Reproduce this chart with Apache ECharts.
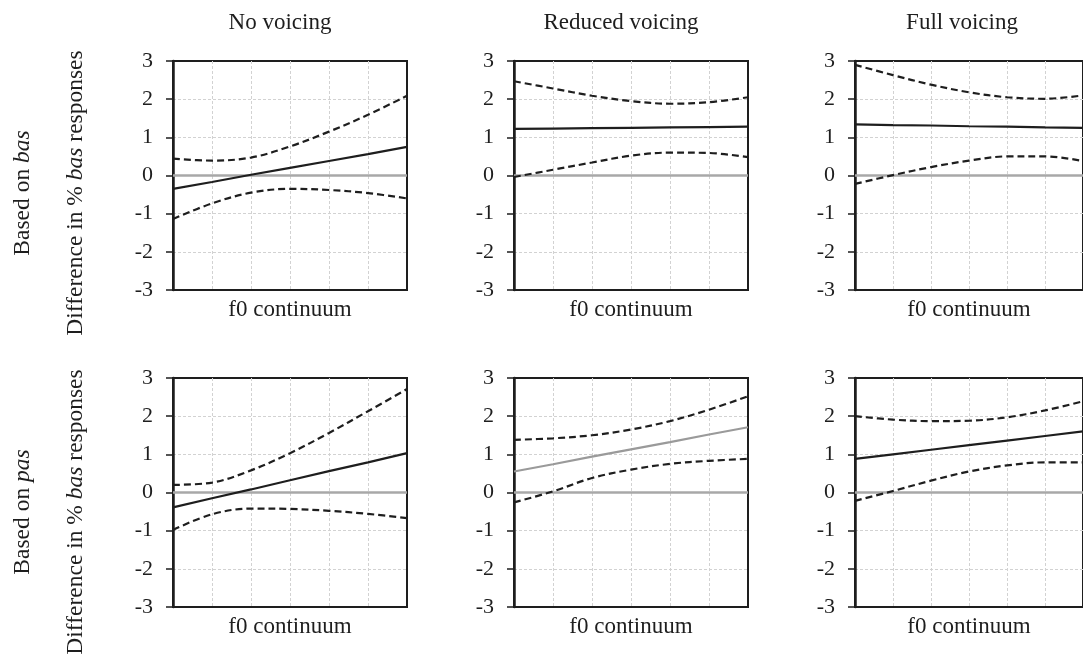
<!DOCTYPE html>
<html>
<head>
<meta charset="utf-8">
<script src="https://cdn.jsdelivr.net/npm/echarts@6/dist/echarts.min.js"></script>
<style>
  html, body { margin: 0; padding: 0; background: #ffffff; }
  #chart { width: 1083px; height: 655px; }
</style>
</head>
<body>
<div id="chart"></div>
<script>
// Steps along the f0 continuum (x positions) and the value axis ticks
const steps = [0, 1, 2, 3, 4, 5, 6];
const yTickValues = [-3, -2, -1, 0, 1, 2, 3];
const zeroLine = [0, 0];

// Column headings (voicing conditions) and row headings (reference item)
const columnTitles = ['No voicing', 'Reduced voicing', 'Full voicing'];
const rowWords = ['bas', 'pas'];
const xAxisTitle = 'f0 continuum';

// Based on bas
const noBasFit   = [-0.35, -0.17, 0.02, 0.20, 0.38, 0.56, 0.75];
const noBasUpper = [0.44, 0.39, 0.47, 0.76, 1.15, 1.59, 2.09];
const noBasLower = [-1.14, -0.73, -0.45, -0.35, -0.38, -0.46, -0.60];

const redBasFit   = [1.22, 1.23, 1.24, 1.25, 1.26, 1.27, 1.28];
const redBasUpper = [2.47, 2.28, 2.09, 1.95, 1.88, 1.92, 2.05];
const redBasLower = [-0.04, 0.15, 0.34, 0.52, 0.60, 0.59, 0.48];

const fullBasFit   = [1.34, 1.32, 1.31, 1.29, 1.28, 1.26, 1.25];
const fullBasUpper = [2.90, 2.63, 2.38, 2.18, 2.05, 2.01, 2.10];
const fullBasLower = [-0.22, 0.01, 0.22, 0.39, 0.50, 0.50, 0.38];

// Based on pas
const noPasFit   = [-0.39, -0.15, 0.08, 0.32, 0.56, 0.79, 1.03];
const noPasUpper = [0.20, 0.26, 0.58, 1.03, 1.56, 2.13, 2.71];
const noPasLower = [-0.98, -0.57, -0.42, -0.43, -0.48, -0.56, -0.67];

const redPasFit   = [0.55, 0.74, 0.94, 1.13, 1.32, 1.52, 1.71];
const redPasUpper = [1.38, 1.42, 1.50, 1.65, 1.87, 2.17, 2.52];
const redPasLower = [-0.26, 0.03, 0.38, 0.60, 0.75, 0.83, 0.88];

const fullPasFit   = [0.88, 1.00, 1.12, 1.24, 1.36, 1.48, 1.60];
const fullPasUpper = [2.00, 1.91, 1.87, 1.88, 1.97, 2.15, 2.39];
const fullPasLower = [-0.22, 0.04, 0.31, 0.55, 0.71, 0.79, 0.79];

// Panels in reading order; fitGrey marks a fitted line drawn in grey
const panels = [
  { fit: noBasFit,   upper: noBasUpper,   lower: noBasLower,   fitGrey: false },
  { fit: redBasFit,  upper: redBasUpper,  lower: redBasLower,  fitGrey: false },
  { fit: fullBasFit, upper: fullBasUpper, lower: fullBasLower, fitGrey: false },
  { fit: noPasFit,   upper: noPasUpper,   lower: noPasLower,   fitGrey: false },
  { fit: redPasFit,  upper: redPasUpper,  lower: redPasLower,  fitGrey: true  },
  { fit: fullPasFit, upper: fullPasUpper, lower: fullPasLower, fitGrey: false }
];

const FONT = '"Liberation Serif", "Times New Roman", serif';
const INK = '#1e1e1e';
const colLefts = [173, 514, 855];
const plotWidth = 234;
const rowTops = [61, 378];
const plotHeight = 229;
const titleCenters = [275, 616, 957];

const pairs = vals => steps.map((s, i) => [s, vals[i]]);
const gridLines = { show: true, showMinLine: false, showMaxLine: false,
  lineStyle: { color: '#d2d2d2', width: 1, type: [3, 2] } };

const grids = [], xAxes = [], yAxes = [], series = [];
panels.forEach((p, k) => {
  const row = Math.floor(k / 3), col = k % 3;
  grids.push({
    left: colLefts[col],
    top: rowTops[row],
    width: plotWidth,
    height: plotHeight,
    show: true,
    borderColor: INK,
    borderWidth: 2,
    backgroundColor: 'transparent'
  });
  xAxes.push({
    gridIndex: k,
    type: 'value',
    min: 0, max: 6, interval: 1,
    name: xAxisTitle,
    nameLocation: 'middle',
    nameGap: 8,
    nameTextStyle: { fontFamily: FONT, fontSize: 23, color: INK, verticalAlign: 'top' },
    axisLine: { show: true, onZero: false, lineStyle: { color: INK, width: 2 } },
    axisTick: { show: false },
    axisLabel: { show: false },
    splitLine: gridLines
  });
  yAxes.push({
    gridIndex: k,
    type: 'value',
    min: -3, max: 3, interval: 1,
    axisLine: { show: true, lineStyle: { color: INK, width: 2.5 } },
    axisTick: { show: true, inside: false, length: 7, lineStyle: { color: INK, width: 1.5 } },
    axisLabel: {
      fontFamily: FONT, fontSize: 22, color: INK, margin: 20,
      formatter: v => yTickValues.includes(v) ? String(v) : ''
    },
    splitLine: gridLines
  });
  // reference line at zero
  series.push({
    type: 'line', xAxisIndex: k, yAxisIndex: k,
    data: [[steps[0], zeroLine[0]], [steps[steps.length - 1], zeroLine[1]]],
    symbol: 'none', silent: true, z: 2,
    lineStyle: { color: '#a8a8a8', width: 2.5 }
  });
  // confidence bands
  [p.upper, p.lower].forEach(band => {
    series.push({
      type: 'line', xAxisIndex: k, yAxisIndex: k,
      data: pairs(band), smooth: 0.35,
      symbol: 'none', silent: true, z: 3,
      lineStyle: { color: INK, width: 2.2, type: [7, 4] }
    });
  });
  // fitted difference
  series.push({
    type: 'line', xAxisIndex: k, yAxisIndex: k,
    data: pairs(p.fit),
    symbol: 'none', silent: true, z: 4,
    lineStyle: { color: p.fitGrey ? '#9a9a9a' : INK, width: 2.2 }
  });
});

const titles = columnTitles.map((t, i) => ({
  text: t,
  left: titleCenters[i],
  top: 6,
  textAlign: 'center',
  textStyle: { fontFamily: FONT, fontSize: 23, fontWeight: 'normal', color: INK }
}));

// rotated row headings on the left
const rowCenters = [193, 512];
const graphics = [];
rowWords.forEach((w, r) => {
  graphics.push({
    type: 'text',
    x: 23, y: rowCenters[r],
    rotation: Math.PI / 2,
    style: {
      text: '{n|Based on }{i|' + w + '}',
      align: 'center', verticalAlign: 'middle',
      rich: {
        n: { fontFamily: FONT, fontSize: 23.5, fill: INK },
        i: { fontFamily: FONT, fontSize: 23.5, fontStyle: 'italic', fill: INK }
      }
    }
  });
  graphics.push({
    type: 'text',
    x: 76, y: rowCenters[r],
    rotation: Math.PI / 2,
    style: {
      text: '{n|Difference in % }{i|bas}{n| responses}',
      align: 'center', verticalAlign: 'middle',
      rich: {
        n: { fontFamily: FONT, fontSize: 23.5, fill: INK },
        i: { fontFamily: FONT, fontSize: 23.5, fontStyle: 'italic', fill: INK }
      }
    }
  });
});

const chart = echarts.init(document.getElementById('chart'), null, { renderer: 'canvas' });
chart.setOption({
  animation: false,
  backgroundColor: '#ffffff',
  title: titles,
  grid: grids,
  xAxis: xAxes,
  yAxis: yAxes,
  series: series,
  graphic: graphics
});
</script>
</body>
</html>
